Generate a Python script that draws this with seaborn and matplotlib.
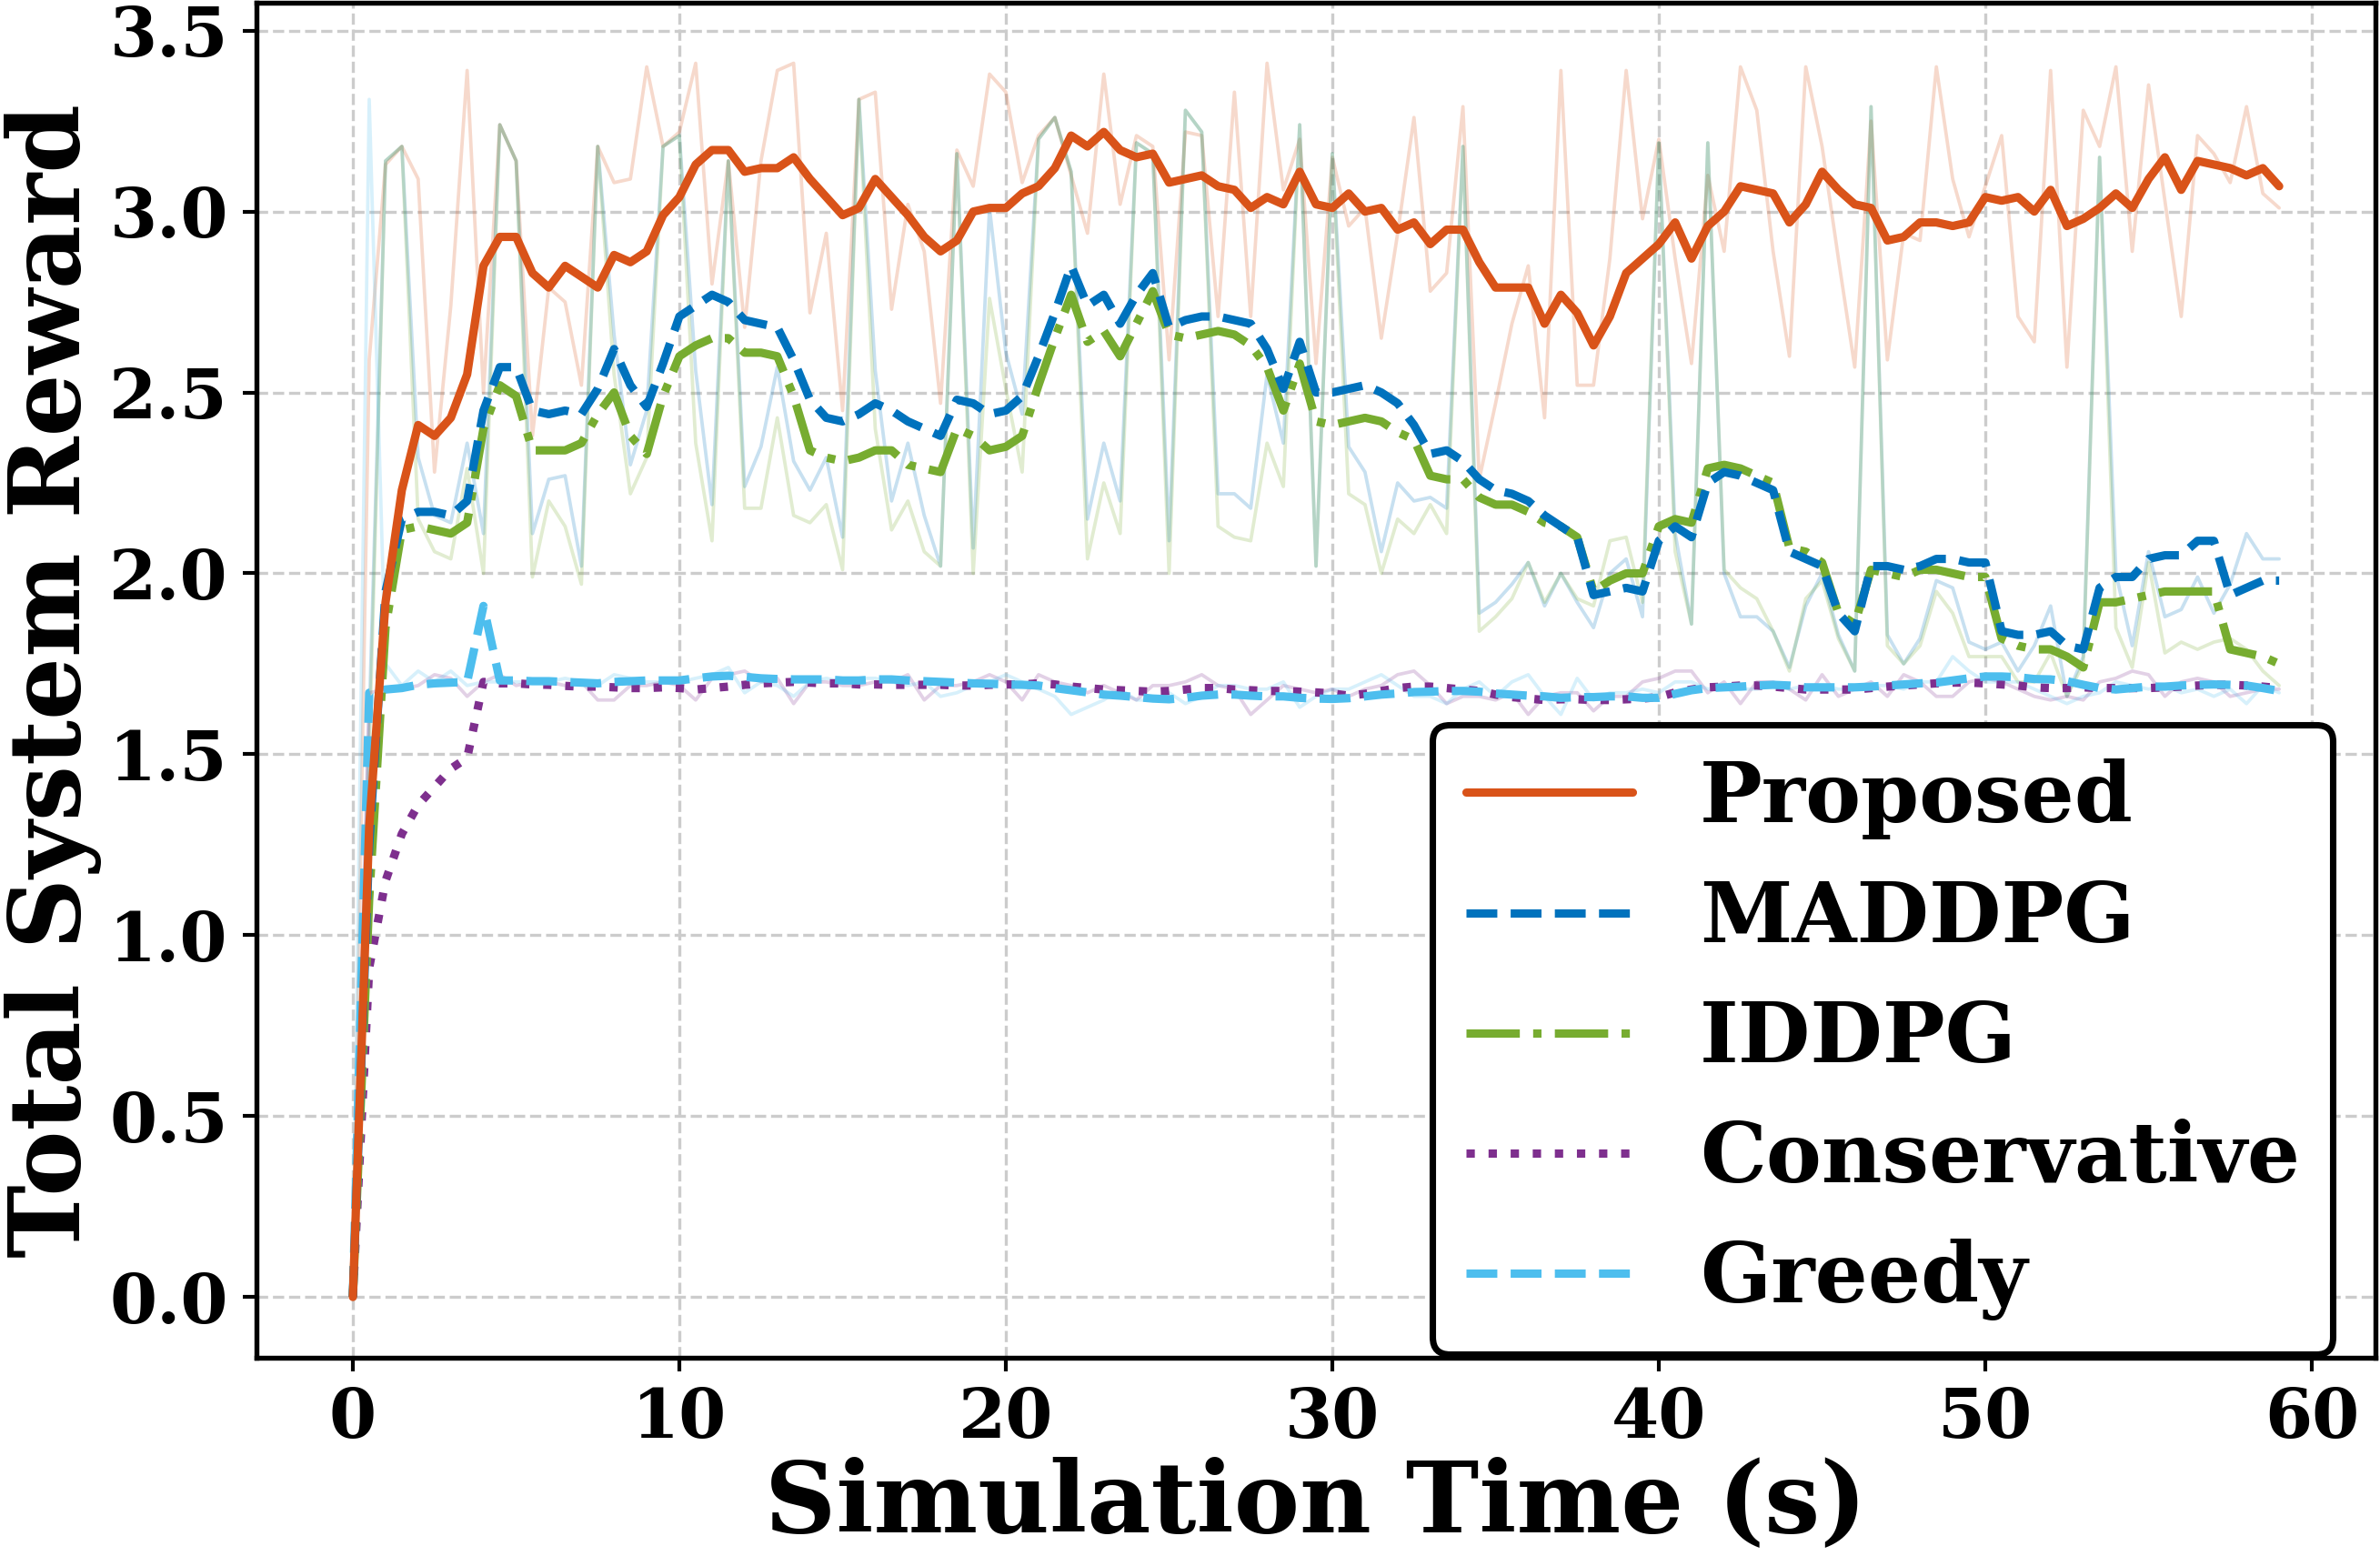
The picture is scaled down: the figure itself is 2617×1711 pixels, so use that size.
import numpy as np
import matplotlib
matplotlib.use("Agg")
import matplotlib.pyplot as plt
import seaborn as sns

# simulation time stamps (s), one sample every 0.5 s
sim_time = np.arange(0, 59.5, 0.5)

# smoothed curves
proposed = [0.00, 1.30, 1.92, 2.23, 2.41, 2.38, 2.43, 2.55, 2.85, 2.93,
            2.93, 2.83, 2.79, 2.85, 2.82, 2.79, 2.88, 2.86, 2.89, 2.99,
            3.04, 3.13, 3.17, 3.17, 3.11, 3.12, 3.12, 3.15, 3.09, 3.04,
            2.99, 3.01, 3.09, 3.04, 2.99, 2.93, 2.89, 2.92, 3.00, 3.01,
            3.01, 3.05, 3.07, 3.12, 3.21, 3.18, 3.22, 3.17, 3.15, 3.16,
            3.08, 3.09, 3.10, 3.07, 3.06, 3.01, 3.04, 3.02, 3.11, 3.02,
            3.01, 3.05, 3.00, 3.01, 2.95, 2.97, 2.91, 2.95, 2.95, 2.86,
            2.79, 2.79, 2.79, 2.69, 2.77, 2.72, 2.63, 2.71, 2.83, 2.87,
            2.91, 2.97, 2.87, 2.96, 3.00, 3.07, 3.06, 3.05, 2.97, 3.02,
            3.11, 3.06, 3.02, 3.01, 2.92, 2.93, 2.97, 2.97, 2.96, 2.97,
            3.04, 3.03, 3.04, 3.00, 3.06, 2.96, 2.98, 3.01, 3.05, 3.01,
            3.09, 3.15, 3.06, 3.14, 3.13, 3.12, 3.10, 3.12, 3.07]
maddpg = [0.00, 1.25, 1.95, 2.15, 2.17, 2.17, 2.16, 2.20, 2.45, 2.57,
          2.57, 2.45, 2.44, 2.45, 2.44, 2.51, 2.62, 2.52, 2.46, 2.58,
          2.71, 2.74, 2.77, 2.75, 2.70, 2.69, 2.68, 2.59, 2.48, 2.43,
          2.42, 2.44, 2.47, 2.45, 2.42, 2.40, 2.38, 2.48, 2.47, 2.44,
          2.45, 2.49, 2.60, 2.72, 2.85, 2.74, 2.77, 2.69, 2.77, 2.83,
          2.68, 2.70, 2.71, 2.71, 2.70, 2.69, 2.62, 2.51, 2.64, 2.50,
          2.50, 2.51, 2.52, 2.50, 2.47, 2.41, 2.33, 2.34, 2.31, 2.26,
          2.23, 2.22, 2.20, 2.16, 2.13, 2.10, 1.94, 1.95, 1.96, 1.95,
          2.09, 2.13, 2.10, 2.25, 2.28, 2.27, 2.25, 2.23, 2.06, 2.04,
          2.02, 1.89, 1.84, 2.02, 2.02, 2.01, 2.02, 2.04, 2.04, 2.03,
          2.03, 1.84, 1.83, 1.83, 1.84, 1.80, 1.79, 1.96, 1.99, 1.99,
          2.04, 2.05, 2.05, 2.09, 2.09, 1.94, 1.96, 1.98, 1.98]
iddpg = [0.00, 1.10, 1.85, 2.12, 2.13, 2.12, 2.11, 2.14, 2.40, 2.52,
         2.49, 2.34, 2.34, 2.34, 2.36, 2.44, 2.50, 2.38, 2.33, 2.49,
         2.60, 2.63, 2.65, 2.65, 2.61, 2.61, 2.60, 2.49, 2.34, 2.32,
         2.31, 2.32, 2.34, 2.34, 2.30, 2.29, 2.28, 2.40, 2.38, 2.34,
         2.35, 2.38, 2.52, 2.65, 2.77, 2.64, 2.67, 2.60, 2.69, 2.78,
         2.66, 2.65, 2.66, 2.67, 2.66, 2.63, 2.57, 2.45, 2.58, 2.42,
         2.41, 2.42, 2.43, 2.42, 2.39, 2.37, 2.27, 2.26, 2.26, 2.21,
         2.19, 2.19, 2.17, 2.14, 2.13, 2.10, 1.95, 1.98, 2.00, 2.00,
         2.13, 2.15, 2.14, 2.29, 2.30, 2.29, 2.27, 2.25, 2.07, 2.06,
         2.03, 1.89, 1.86, 2.01, 2.00, 1.99, 2.01, 2.01, 2.00, 1.99,
         1.99, 1.82, 1.80, 1.79, 1.79, 1.77, 1.74, 1.92, 1.92, 1.93,
         1.94, 1.95, 1.95, 1.95, 1.95, 1.79, 1.78, 1.77, 1.75]
conservative = [0.00, 0.91, 1.15, 1.28, 1.36, 1.41, 1.46, 1.49, 1.700, 1.696,
                1.696, 1.693, 1.692, 1.689, 1.687, 1.687, 1.685, 1.683, 1.683, 1.685,
                1.683, 1.679, 1.683, 1.687, 1.692, 1.696, 1.698, 1.700, 1.698, 1.696,
                1.696, 1.693, 1.693, 1.692, 1.692, 1.692, 1.692, 1.690, 1.690, 1.692,
                1.693, 1.693, 1.696, 1.693, 1.687, 1.683, 1.679, 1.677, 1.675, 1.673,
                1.675, 1.679, 1.683, 1.683, 1.679, 1.677, 1.675, 1.675, 1.673, 1.671,
                1.668, 1.662, 1.667, 1.675, 1.683, 1.687, 1.687, 1.683, 1.679, 1.675,
                1.665, 1.658, 1.654, 1.650, 1.652, 1.652, 1.650, 1.650, 1.652, 1.654,
                1.658, 1.671, 1.679, 1.685, 1.687, 1.690, 1.690, 1.687, 1.683, 1.679,
                1.679, 1.679, 1.679, 1.683, 1.687, 1.690, 1.693, 1.696, 1.698, 1.698,
                1.696, 1.693, 1.690, 1.685, 1.683, 1.683, 1.685, 1.683, 1.683, 1.683,
                1.683, 1.685, 1.687, 1.690, 1.692, 1.692, 1.690, 1.687, 1.683]
greedy = [0.00, 1.670, 1.679, 1.683, 1.692, 1.696, 1.698, 1.700, 1.910, 1.704,
          1.704, 1.702, 1.702, 1.700, 1.698, 1.696, 1.700, 1.702, 1.704, 1.704,
          1.704, 1.710, 1.715, 1.717, 1.714, 1.710, 1.708, 1.707, 1.707, 1.707,
          1.704, 1.704, 1.707, 1.707, 1.704, 1.702, 1.700, 1.698, 1.696, 1.695,
          1.693, 1.692, 1.690, 1.683, 1.677, 1.671, 1.665, 1.662, 1.658, 1.654,
          1.652, 1.656, 1.662, 1.665, 1.665, 1.662, 1.660, 1.660, 1.656, 1.654,
          1.653, 1.655, 1.660, 1.665, 1.668, 1.672, 1.673, 1.675, 1.675, 1.673,
          1.668, 1.665, 1.662, 1.660, 1.656, 1.658, 1.658, 1.660, 1.660, 1.656,
          1.656, 1.667, 1.677, 1.683, 1.685, 1.687, 1.690, 1.692, 1.690, 1.685,
          1.685, 1.685, 1.685, 1.687, 1.690, 1.693, 1.696, 1.698, 1.704, 1.710,
          1.715, 1.715, 1.713, 1.708, 1.707, 1.702, 1.692, 1.683, 1.679, 1.683,
          1.687, 1.687, 1.690, 1.692, 1.693, 1.692, 1.690, 1.683, 1.675]

# raw (unsmoothed) rewards, drawn faintly behind
proposed_raw = [0.00, 2.59, 3.13, 3.18, 3.09, 2.28, 2.74, 3.39, 2.50, 3.24,
                3.14, 2.38, 2.79, 2.75, 2.52, 3.18, 3.08, 3.09, 3.40, 3.18,
                3.22, 3.41, 2.80, 3.14, 2.68, 3.14, 3.39, 3.41, 2.72, 2.94,
                2.45, 3.31, 3.33, 2.73, 3.02, 2.89, 2.47, 3.17, 3.07, 3.38,
                3.33, 3.08, 3.21, 3.26, 3.10, 2.94, 3.38, 3.02, 3.21, 3.18,
                2.59, 3.22, 3.21, 2.71, 3.33, 2.71, 3.41, 3.06, 3.20, 2.58,
                3.15, 2.96, 3.01, 2.65, 2.94, 3.26, 2.78, 2.83, 3.29, 2.26,
                2.47, 2.69, 2.85, 2.43, 3.39, 2.52, 2.52, 2.87, 3.39, 2.98,
                3.20, 2.87, 2.58, 3.10, 2.89, 3.40, 3.28, 2.89, 2.60, 3.40,
                3.18, 2.87, 2.57, 3.25, 2.59, 2.94, 2.92, 3.40, 3.09, 2.93,
                3.07, 3.21, 2.71, 2.64, 3.39, 2.57, 3.28, 3.18, 3.40, 2.89,
                3.35, 3.03, 2.71, 3.21, 3.16, 3.08, 3.29, 3.05, 3.01]
maddpg_raw = [0.00, 1.60, 3.14, 3.18, 2.32, 2.16, 2.14, 2.36, 2.11, 3.24,
              3.14, 2.11, 2.26, 2.27, 2.02, 3.18, 2.66, 2.30, 2.45, 3.18,
              3.21, 2.56, 2.19, 3.14, 2.24, 2.35, 2.57, 2.31, 2.23, 2.32,
              2.10, 3.31, 2.56, 2.20, 2.36, 2.16, 2.02, 3.16, 2.07, 3.01,
              2.61, 2.44, 3.20, 3.26, 3.11, 2.15, 2.36, 2.20, 3.19, 3.16,
              2.09, 3.28, 3.22, 2.22, 2.22, 2.18, 2.55, 2.36, 3.24, 2.02,
              3.16, 2.35, 2.28, 2.06, 2.25, 2.20, 2.21, 2.18, 3.18, 1.89,
              1.92, 1.97, 2.03, 1.91, 2.00, 1.92, 1.85, 2.00, 2.04, 1.88,
              3.19, 2.11, 1.86, 3.19, 2.00, 1.88, 1.88, 1.84, 1.74, 1.91,
              2.00, 1.83, 1.73, 3.29, 1.83, 1.75, 1.82, 1.98, 1.96, 1.81,
              1.79, 1.81, 1.73, 1.80, 1.91, 1.66, 1.77, 3.15, 2.00, 1.80,
              2.06, 1.88, 1.90, 1.99, 1.89, 1.97, 2.11, 2.04, 2.04]
iddpg_raw = [0.00, 1.50, 3.14, 3.18, 2.15, 2.06, 2.04, 2.29, 2.00, 3.24,
             3.14, 1.99, 2.20, 2.13, 1.97, 3.18, 2.55, 2.22, 2.32, 3.18,
             3.21, 2.36, 2.09, 3.14, 2.18, 2.18, 2.43, 2.16, 2.14, 2.19,
             2.01, 3.31, 2.40, 2.12, 2.20, 2.06, 2.02, 3.16, 2.00, 2.76,
             2.51, 2.28, 3.20, 3.26, 3.11, 2.04, 2.25, 2.11, 3.19, 3.16,
             2.00, 3.28, 3.22, 2.13, 2.10, 2.09, 2.36, 2.24, 3.24, 2.02,
             3.16, 2.22, 2.19, 2.00, 2.15, 2.11, 2.19, 2.11, 3.18, 1.84,
             1.88, 1.93, 2.03, 1.92, 2.00, 1.93, 1.91, 2.09, 2.10, 1.92,
             3.19, 2.06, 1.86, 3.19, 2.01, 1.96, 1.93, 1.84, 1.73, 1.93,
             1.98, 1.82, 1.73, 3.29, 1.80, 1.75, 1.80, 1.95, 1.89, 1.77,
             1.77, 1.77, 1.70, 1.70, 1.78, 1.66, 1.75, 3.15, 1.85, 1.74,
             2.03, 1.78, 1.81, 1.79, 1.81, 1.82, 1.79, 1.73, 1.69]
conservative_raw = [0.00, 1.67, 1.68, 1.68, 1.69, 1.72, 1.71, 1.66, 1.70, 1.72,
                    1.69, 1.70, 1.70, 1.69, 1.70, 1.65, 1.65, 1.69, 1.69, 1.70,
                    1.69, 1.65, 1.71, 1.72, 1.73, 1.70, 1.71, 1.64, 1.70, 1.70,
                    1.69, 1.69, 1.70, 1.70, 1.72, 1.65, 1.69, 1.69, 1.70, 1.72,
                    1.70, 1.65, 1.72, 1.70, 1.69, 1.67, 1.69, 1.67, 1.65, 1.69,
                    1.69, 1.70, 1.72, 1.69, 1.68, 1.61, 1.65, 1.69, 1.68, 1.67,
                    1.68, 1.66, 1.68, 1.69, 1.72, 1.73, 1.69, 1.64, 1.66, 1.66,
                    1.65, 1.67, 1.61, 1.66, 1.67, 1.67, 1.62, 1.66, 1.66, 1.70,
                    1.71, 1.73, 1.73, 1.67, 1.70, 1.64, 1.70, 1.70, 1.68, 1.65,
                    1.72, 1.66, 1.68, 1.70, 1.66, 1.72, 1.70, 1.66, 1.66, 1.70,
                    1.71, 1.70, 1.68, 1.66, 1.65, 1.66, 1.65, 1.70, 1.71, 1.73,
                    1.72, 1.66, 1.70, 1.71, 1.70, 1.66, 1.67, 1.68, 1.68]
greedy_raw = [0.00, 3.31, 1.75, 1.69, 1.73, 1.70, 1.73, 1.69, 1.70, 1.70,
              1.70, 1.70, 1.70, 1.71, 1.70, 1.69, 1.72, 1.71, 1.70, 1.70,
              1.70, 1.71, 1.72, 1.74, 1.67, 1.70, 1.69, 1.66, 1.70, 1.71,
              1.70, 1.71, 1.71, 1.70, 1.69, 1.70, 1.66, 1.67, 1.69, 1.70,
              1.72, 1.70, 1.68, 1.66, 1.61, 1.63, 1.65, 1.68, 1.65, 1.65,
              1.67, 1.64, 1.66, 1.69, 1.69, 1.68, 1.68, 1.70, 1.63, 1.66,
              1.68, 1.68, 1.70, 1.72, 1.69, 1.66, 1.66, 1.64, 1.68, 1.70,
              1.66, 1.70, 1.72, 1.66, 1.61, 1.71, 1.65, 1.67, 1.67, 1.68,
              1.67, 1.70, 1.70, 1.68, 1.69, 1.68, 1.68, 1.69, 1.68, 1.69,
              1.69, 1.68, 1.68, 1.69, 1.69, 1.68, 1.70, 1.70, 1.77, 1.73,
              1.70, 1.70, 1.70, 1.68, 1.66, 1.64, 1.66, 1.67, 1.70, 1.69,
              1.68, 1.69, 1.67, 1.68, 1.66, 1.68, 1.64, 1.69, 1.67]

labels = ["Proposed", "MADDPG", "IDDPG", "Conservative", "Greedy"]
colors = ["#D95319", "#0072BD", "#77AC30", "#7E2F8E", "#4DBEEE"]
styles = ["-", "--", "-.", ":", "--"]
smooth = [proposed, maddpg, iddpg, conservative, greedy]
raw = [proposed_raw, maddpg_raw, iddpg_raw, conservative_raw, greedy_raw]
zorders = [7, 6, 5, 3, 4]

sns.set_style("white")
plt.rcParams["font.family"] = ["DejaVu Serif"]
plt.rcParams["font.weight"] = "bold"
plt.rcParams["text.color"] = "black"
plt.rcParams["axes.labelcolor"] = "black"
plt.rcParams["xtick.color"] = "black"
plt.rcParams["ytick.color"] = "black"

fig = plt.figure(figsize=(2617 / 300, 1711 / 300), dpi=300)
ax = fig.add_axes([0.1078, 0.1274, 0.8903, 0.8708])

# faint raw traces first
for ys, c in zip(raw, colors):
    sns.lineplot(x=sim_time, y=ys, color=c, alpha=0.22, linewidth=0.9,
                 ax=ax, legend=False, zorder=2)

# smoothed curves on top
for ys, c, ls, lab, z in zip(smooth, colors, styles, labels, zorders):
    sns.lineplot(x=sim_time, y=ys, color=c, linestyle=ls, linewidth=2.2,
                 label=lab, ax=ax, zorder=z)

ax.set_xlim(-2.95, 61.95)
ax.set_ylim(-0.168, 3.577)
ax.set_xticks([0, 10, 20, 30, 40, 50, 60])
ax.set_yticks([0.0, 0.5, 1.0, 1.5, 2.0, 2.5, 3.0, 3.5])
ax.set_yticklabels(["0.0", "0.5", "1.0", "1.5", "2.0", "2.5", "3.0", "3.5"])
ax.grid(True, linestyle="--", color="#cccccc", linewidth=0.8)
ax.set_axisbelow(True)

ax.tick_params(axis="both", labelsize=18, width=1.0, length=3.5, pad=4,
               direction="out", bottom=True, left=True, colors="black")
for lbl in ax.get_xticklabels() + ax.get_yticklabels():
    lbl.set_fontweight("bold")
for sp in ax.spines.values():
    sp.set_linewidth(1.3)
    sp.set_color("black")

ax.set_xlabel("Simulation Time (s)", fontsize=26, fontweight="bold",
              labelpad=1, color="black")
ax.set_ylabel("Total System Reward", fontsize=26, fontweight="bold",
              labelpad=2, color="black")

leg = ax.legend(loc="lower right", bbox_to_anchor=(0.980, 0.003),
                borderaxespad=0, prop={"family": "DejaVu Serif", "weight": "bold", "size": 22},
                handlelength=2.0, handletextpad=0.8, labelspacing=0.47,
                borderpad=0.4, fancybox=True, framealpha=1, edgecolor="black")
leg.get_frame().set_linewidth(1.7)
for txt in leg.get_texts():
    txt.set_color("black")

fig.savefig("out.png", dpi=300)
